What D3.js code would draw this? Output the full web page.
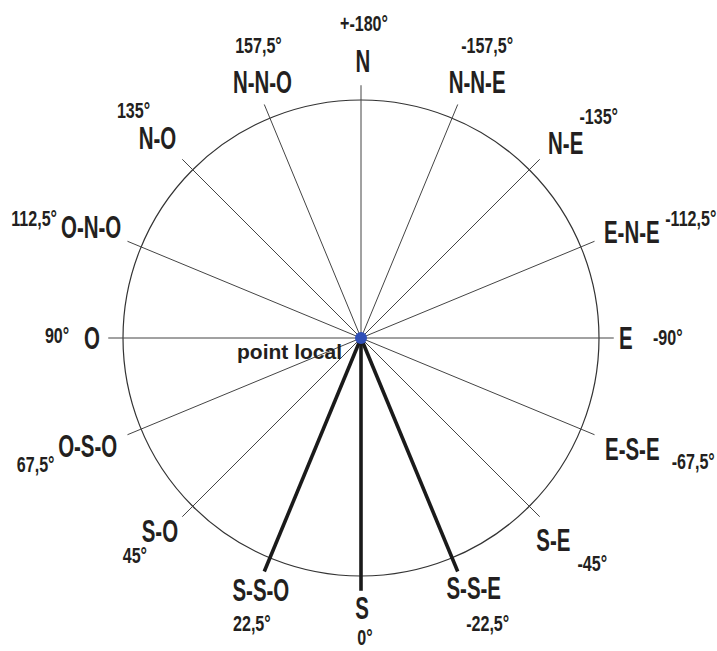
<!DOCTYPE html>
<html><head><meta charset="utf-8">
<script src="https://cdn.jsdelivr.net/npm/d3@7"></script>
<style>body{margin:0;background:#fff}</style>
</head><body>
<svg id="chart" width="717" height="651"></svg>
<script>
// ---- data ----
const directions = ["S","S-S-O","S-O","O-S-O","O","O-N-O","N-O","N-N-O","N","N-N-E","N-E","E-N-E","E","E-S-E","S-E","S-S-E"];
const angles = [0,22.5,45,67.5,90,112.5,135,157.5,180,-157.5,-135,-112.5,-90,-67.5,-45,-22.5];
const degreeLabels = ["0°","22,5°","45°","67,5°","90°","112,5°","135°","157,5°","+-180°","-157,5°","-135°","-112,5°","-90°","-67,5°","-45°","-22,5°"];
const highlighted = ["S-S-O","S","S-S-E"];
const centerLabel = "point local";

// ---- layout ----
const cx = 361, cy = 338;
const svg = d3.select("#chart");
const r = d3.scaleLinear().domain([0, 1]).range([0, 238]);
const toRad = d3.scaleLinear().domain([0, 360]).range([0, 2 * Math.PI]);
function pt(a, rr) { const t = toRad(a); return [cx - rr * Math.sin(t), cy + rr * Math.cos(t)]; }
const nameNudge = [[1,-4],[11,-1],[-3,-1],[-4,3],[1,0],[0,-7],[-5,-7],[13,-3],[2,-3.5],[5,-3],[7,-2],[3,-2],[-4,0],[4,6],[-5,8],[2,-3]];
const degOffset = [[3,30],[-9,33],[-25,25],[-52,18],[-35,-3],[-57,-8],[-24,-28],[-4,-37],[1,-38],[10,-37],[33,-27],[59,-13],[42,-1],[61,12],[39,24],[14,35]];
const FONT = "'Liberation Sans', Arial, sans-serif";
const ink = "#231f20";

svg.append("circle").attr("cx", cx).attr("cy", cy).attr("r", r(1))
  .attr("fill", "none").attr("stroke", "#333").attr("stroke-width", 1.2);

const spokes = angles.map((a, i) => ({a, name: directions[i], hi: highlighted.includes(directions[i])}));
spokes.sort((p, q) => p.hi - q.hi);
svg.selectAll("line.spoke").data(spokes).join("line")
  .attr("class", "spoke")
  .attr("x1", cx).attr("y1", cy)
  .attr("x2", d => pt(d.a, r(1.062))[0])
  .attr("y2", d => pt(d.a, r(1.062))[1])
  .attr("stroke", d => d.hi ? "#1a1a1a" : "#444")
  .attr("stroke-width", d => d.hi ? 3.6 : 1)
  .attr("stroke-linecap", "butt");

svg.append("circle").attr("cx", cx).attr("cy", cy).attr("r", 6).attr("fill", "#2f4fb8");

// name labels
const NS = 0.66, DS = 0.73;
const nameCenters = [];
angles.forEach((a, i) => {
  const g = svg.append("g");
  const t = g.append("text").text(directions[i])
    .attr("font-family", FONT).attr("font-weight", "bold").attr("font-size", 31)
    .attr("fill", ink).attr("text-anchor", "middle").attr("dy", "0.36em")
    .attr("transform", `scale(${NS},1)`);
  const hw = t.node().getComputedTextLength() * NS / 2, hh = 11.5;
  const p = pt(a, 262), th = toRad(a);
  const ux = -Math.sin(th), uy = Math.cos(th);
  const c = [p[0] + ux * hw + nameNudge[i][0], p[1] + uy * hh + nameNudge[i][1]];
  nameCenters.push(c);
  g.attr("transform", `translate(${c[0]},${c[1]})`);
});

// degree labels
angles.forEach((a, i) => {
  const c = nameCenters[i];
  svg.append("g").attr("transform", `translate(${c[0] + degOffset[i][0]},${c[1] + degOffset[i][1]})`)
    .append("text").text(degreeLabels[i])
    .attr("font-family", FONT).attr("font-weight", "bold").attr("font-size", 22)
    .attr("fill", ink).attr("text-anchor", "middle").attr("dy", "0.36em")
    .attr("transform", `scale(${DS},1)`);
});

svg.append("text").text(centerLabel)
  .attr("x", cx - 19).attr("y", cy + 21)
  .attr("font-family", FONT).attr("font-weight", "bold").attr("font-size", 21)
  .attr("fill", ink).attr("text-anchor", "end");
</script>
</body></html>
